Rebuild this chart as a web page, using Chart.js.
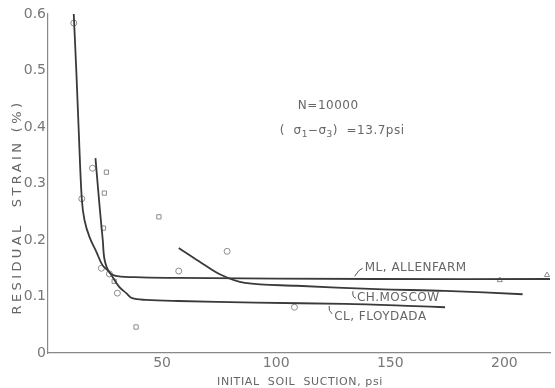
<!DOCTYPE html>
<html>
<head>
<meta charset="utf-8">
<script src="https://cdn.jsdelivr.net/npm/chart.js@4.4.1/dist/chart.umd.min.js"></script>
<style>
  html, body { margin: 0; padding: 0; background: #fff; }
</style>
</head>
<body>
<canvas id="myChart" width="555" height="388"></canvas>
<script>
// curves (x = suction psi, y = strain %)
var floydadaX = [11.2, 12.4, 13.4, 14.8, 16, 18.2, 21.2, 23.8, 26.9, 31.2, 34.3, 36.9, 43, 57, 91, 130, 161, 174];
var floydadaY = [0.607, 0.5, 0.4, 0.273, 0.235, 0.205, 0.179, 0.156, 0.143, 0.117, 0.106, 0.097, 0.094, 0.092, 0.089, 0.087, 0.083, 0.081];

var allenX = [20.8, 22.6, 24, 24.8, 26.9, 30.4, 41, 57, 144, 220];
var allenY = [0.345, 0.26, 0.2, 0.165, 0.143, 0.136, 0.134, 0.133, 0.131, 0.131];

var moscowX = [57.3, 66, 76, 86.3, 109, 144, 174, 208];
var moscowY = [0.186, 0.163, 0.138, 0.124, 0.119, 0.113, 0.110, 0.104];

// test points
var squareX = [25.6, 24.7, 24.3, 48.6, 29, 38.6];
var squareY = [0.32, 0.283, 0.221, 0.241, 0.127, 0.046];
var circleX = [11.3, 14.8, 19.5, 23.4, 26.9, 30.4, 57.3, 78.5, 108];
var circleY = [0.584, 0.273, 0.327, 0.15, 0.14, 0.106, 0.145, 0.18, 0.081];
var triX = [198, 218.7];
var triY = [0.129, 0.138];

var xTicks = [0, 50, 100, 150, 200];
var yTicks = [0, 0.1, 0.2, 0.3, 0.4, 0.5, 0.6];

// curve labels: text, left x, middle y (data units)
var labelText = ["ML, ALLENFARM", "CH.MOSCOW", "CL, FLOYDADA"];
var labelX = [138.8, 135.4, 125.4];
var labelY = [0.150, 0.097, 0.064];

function pts(xs, ys) {
  var out = [];
  for (var i = 0; i < xs.length; i++) out.push({x: xs[i], y: ys[i]});
  return out;
}

function curve(xs, ys) {
  return {
    type: 'line', data: pts(xs, ys),
    borderColor: '#3a3a3a', borderWidth: 1.8,
    pointRadius: 0, tension: 0.35, fill: false
  };
}

function marks(xs, ys, style) {
  return {
    type: 'scatter', data: pts(xs, ys),
    pointStyle: style, pointRadius: 3, borderWidth: 1,
    borderColor: '#8c8c8c', backgroundColor: 'rgba(255,255,255,0)'
  };
}

var textColor = '#666';

var notes = {
  id: 'notes',
  afterDraw: function(chart) {
    var ctx = chart.ctx;
    var xs = chart.scales.x, ys = chart.scales.y;
    var a = chart.chartArea;
    ctx.save();
    ctx.fillStyle = textColor;
    ctx.strokeStyle = '#555';
    ctx.lineWidth = 1;
    ctx.textBaseline = 'middle';

    // curve labels with little hooks
    ctx.font = '12px "DejaVu Sans"';
    ctx.letterSpacing = '0.5px';
    ctx.textAlign = 'left';
    var hooks = [[-10, 8, -6, 1, -2, 0], [-4, -7, -5, -1, -1, 0], [-5, -11, -6, -6, -2, -3]];
    for (var i = 0; i < labelText.length; i++) {
      var px = xs.getPixelForValue(labelX[i]);
      var py = ys.getPixelForValue(labelY[i]);
      ctx.fillText(labelText[i], px, py);
      var h = hooks[i];
      ctx.beginPath();
      ctx.moveTo(px + h[0], py + h[1]);
      ctx.quadraticCurveTo(px + h[2], py + h[3], px + h[4], py + h[5]);
      ctx.stroke();
    }

    // test conditions
    ctx.textAlign = 'center';
    ctx.fillText('N=10000', xs.getPixelForValue(122.8), ys.getPixelForValue(0.437));
    var sx = xs.getPixelForValue(128.9), sy = ys.getPixelForValue(0.393);
    var parts = [['(  \u03c3', 0], ['1', 1], ['\u2212\u03c3', 0], ['3', 1], [')  =13.7psi', 0]];
    var total = 0;
    for (var j = 0; j < parts.length; j++) {
      ctx.font = parts[j][1] ? '9px "DejaVu Sans"' : '12px "DejaVu Sans"';
      total += ctx.measureText(parts[j][0]).width;
    }
    var cx = sx - total / 2;
    ctx.textAlign = 'left';
    for (var k = 0; k < parts.length; k++) {
      ctx.font = parts[k][1] ? '9px "DejaVu Sans"' : '12px "DejaVu Sans"';
      ctx.fillText(parts[k][0], cx, sy + (parts[k][1] ? 4 : 0));
      cx += ctx.measureText(parts[k][0]).width;
    }

    // axis titles
    ctx.font = '11px "DejaVu Sans"';
    ctx.letterSpacing = '0.6px';
    ctx.textAlign = 'center';
    ctx.fillText('INITIAL  SOIL  SUCTION, psi', (a.left + a.right) / 2 + 1, 382);

    ctx.font = '13px "DejaVu Sans"';
    ctx.letterSpacing = '3.4px';
    ctx.translate(18, a.bottom - 146);
    ctx.rotate(-Math.PI / 2);
    ctx.fillText('RESIDUAL  STRAIN (%)', 0, 0);
    ctx.restore();
  }
};

var ctx = document.getElementById('myChart');
var myChart = new Chart(ctx, {
  data: {
    datasets: [
      curve(floydadaX, floydadaY),
      curve(allenX, allenY),
      curve(moscowX, moscowY),
      marks(squareX, squareY, 'rect'),
      marks(circleX, circleY, 'circle'),
      marks(triX, triY, 'triangle')
    ]
  },
  options: {
    responsive: false,
    animation: false,
    devicePixelRatio: 1,
    layout: { padding: { top: 14, right: 0, left: 0, bottom: 0 } },
    plugins: { legend: { display: false }, tooltip: { enabled: false } },
    scales: {
      x: {
        type: 'linear', min: 0, max: 220,
        afterFit: function(s) { s.height = 35; },
        afterBuildTicks: function(s) { s.ticks = xTicks.map(function(v) { return {value: v}; }); },
        ticks: {
          color: '#777', padding: 2, font: { family: 'DejaVu Sans', size: 14 },
          callback: function(v) { return v === 0 ? '' : v; }
        },
        grid: { color: 'rgba(0,0,0,0)', drawTicks: false },
        border: { color: '#888', width: 1.2 }
      },
      y: {
        type: 'linear', min: 0, max: 0.6,
        afterFit: function(s) { s.width = 48; },
        afterBuildTicks: function(s) { s.ticks = yTicks.map(function(v) { return {value: v}; }); },
        ticks: {
          color: '#777', padding: 2, font: { family: 'DejaVu Sans', size: 14 },
          callback: function(v) { return v === 0 ? '0' : v.toFixed(1); }
        },
        grid: { color: 'rgba(0,0,0,0)', drawTicks: false },
        border: { color: '#888', width: 1.2 }
      }
    }
  },
  plugins: [notes]
});
</script>
</body>
</html>
